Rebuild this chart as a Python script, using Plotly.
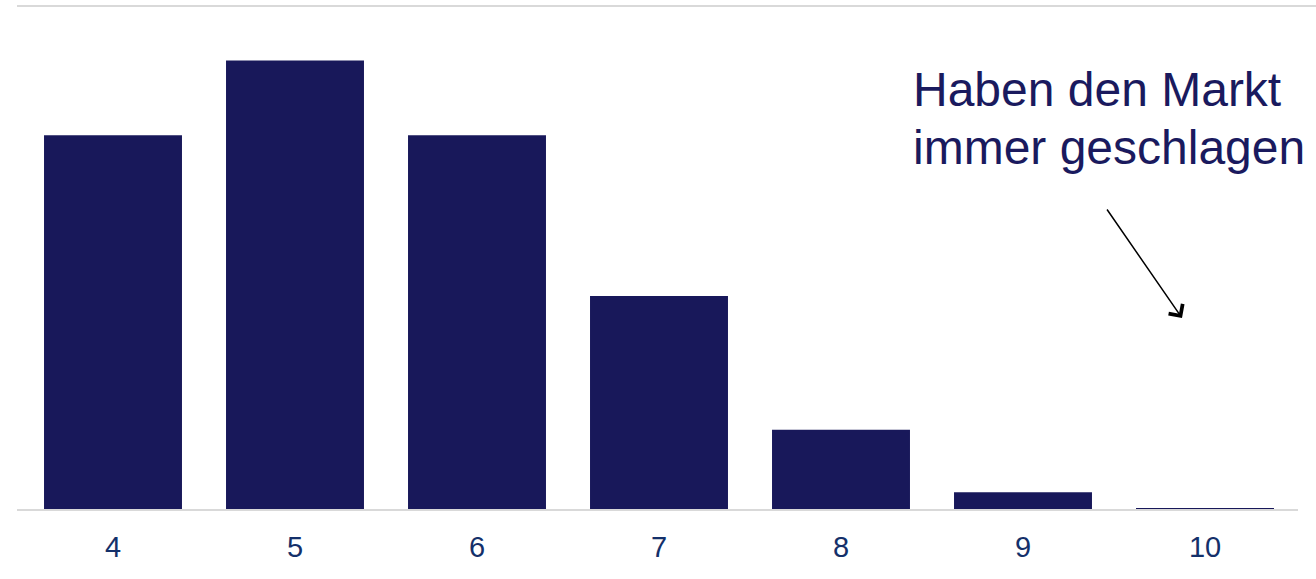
import plotly.graph_objects as go

categories = ["4", "5", "6", "7", "8", "9", "10"]
values = [21.0, 25.2, 21.0, 12.0, 4.5, 1.0, 0.1]

bar_color = "#18185a"
text_color = "#1a1a5e"
tick_color = "#14306a"
grid_color = "#d9d9d9"

fig = go.Figure(go.Bar(x=categories, y=values, marker=dict(color=bar_color, line=dict(width=0))))

W, H = 1316, 579
ml, mr, mt, mb = 22, 20, 6, 69
pw = W - ml - mr
ph = H - mt - mb

def px_x(x):
    return (x - ml) / pw

def px_y(y):
    return (H - mb - y) / ph

fig.update_layout(
    width=W, height=H,
    margin=dict(l=ml, r=mr, t=mt, b=mb, pad=0),
    paper_bgcolor="white", plot_bgcolor="white",
    bargap=0.242,
    showlegend=False,
    font=dict(family="Arial, Liberation Sans, sans-serif"),
    xaxis=dict(showline=False, showgrid=False, zeroline=False,
               ticks="outside", ticklen=11, tickcolor="rgba(0,0,0,0)",
               tickfont=dict(size=29, color=tick_color)),
    yaxis=dict(range=[0, 28.25], showline=False, showgrid=False, zeroline=False,
               showticklabels=False, ticks=""),
    shapes=[
        dict(type="line", xref="paper", yref="paper", x0=px_x(17), x1=px_x(1316), y0=1, y1=1,
             line=dict(color=grid_color, width=2)),
        dict(type="line", xref="paper", yref="paper", x0=px_x(17), x1=px_x(1298), y0=0, y1=0,
             line=dict(color=grid_color, width=2)),
    ],
    annotations=[
        dict(text="Haben den Markt", xref="paper", yref="paper", x=px_x(911), y=px_y(90),
             xanchor="left", yanchor="middle", showarrow=False,
             font=dict(size=48, color=text_color)),
        dict(text="immer geschlagen", xref="paper", yref="paper", x=px_x(911), y=px_y(147),
             xanchor="left", yanchor="middle", showarrow=False,
             font=dict(size=48, color=text_color)),
        dict(text="", xref="paper", yref="paper", x=px_x(1182), y=px_y(318),
             ax=-76, ay=-110, showarrow=True, arrowhead=4, arrowsize=2.2,
             arrowwidth=1.5, arrowcolor="black"),
    ],
)

fig.write_html("out.html")
